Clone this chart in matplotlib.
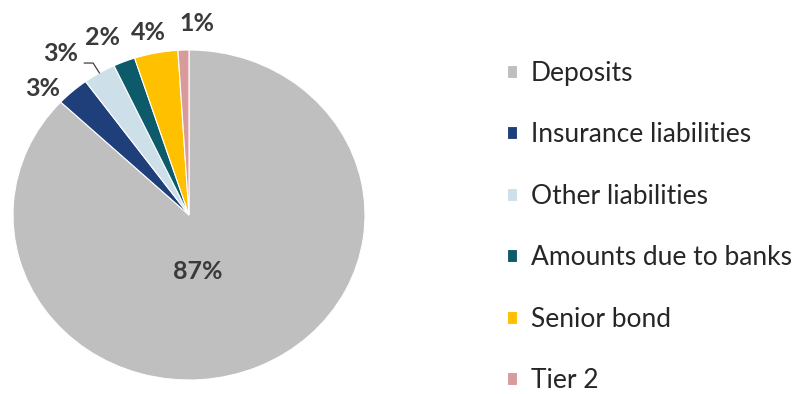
import matplotlib
matplotlib.use("Agg")
import matplotlib.pyplot as plt
import numpy as np

plt.rcParams["font.family"] = ["Lato", "DejaVu Sans"]

CATEGORIES = ["Deposits", "Insurance liabilities", "Other liabilities",
              "Amounts due to banks", "Senior bond", "Tier 2"]
SHARES = [87, 3, 3, 2, 4, 1]
COLORS = ["#bfbfbf", "#1f3f7a", "#cde0ea", "#0d5a6a", "#ffc000", "#d99a9c"]

# per-label placement: (radius in pie units, angle nudge in degrees)
LABEL_LAYOUT = [(0.345, -15), (1.13, 6), (1.22, 6), (1.18, 3), (1.13, 1), (1.16, -4)]
LEADER_LABEL = "Other liabilities"

W, H = 796, 394
fig = plt.figure(figsize=(W / 100, H / 100), dpi=100)
# pie box in pixels: x 13..365, y 50..380 (slightly wider than tall)
ax = fig.add_axes([13 / W, (H - 380) / H, 352 / W, 330 / H])

wedges, _ = ax.pie(SHARES, colors=COLORS, startangle=90, counterclock=False,
                   radius=1, center=(0, 0),
                   wedgeprops=dict(edgecolor="white", linewidth=0.8))
ax.set_xlim(-1, 1)
ax.set_ylim(-1, 1)
ax.set_aspect("auto")
ax.axis("off")

for wedge, share, name, (r, nudge) in zip(wedges, SHARES, CATEGORIES, LABEL_LAYOUT):
    mid = np.deg2rad((wedge.theta1 + wedge.theta2) / 2)
    ang = mid + np.deg2rad(nudge)
    ax.text(r * np.cos(ang), r * np.sin(ang), f"{share}%", ha="center", va="center",
            fontsize=18, fontweight="bold", color="#3a3a3a", clip_on=False)
    if name == LEADER_LABEL:
        x0, y0 = np.cos(mid), np.sin(mid)
        x1, y1 = 1.07 * np.cos(mid), 1.07 * np.sin(mid)
        ax.plot([x0, x1, x1 - 0.05], [y0, y1, y1], color="#404040",
                linewidth=0.9, clip_on=False)

fig.legend(wedges, CATEGORIES, loc="upper left",
           bbox_to_anchor=(507 / W, 1 - 61 / H), frameon=False,
           fontsize=19, handlelength=0.38, handleheight=0.38,
           handletextpad=0.53, labelspacing=1.38, borderpad=0, borderaxespad=0,
           labelcolor="#262626")

fig.savefig("out.png", dpi=100, facecolor="white")
